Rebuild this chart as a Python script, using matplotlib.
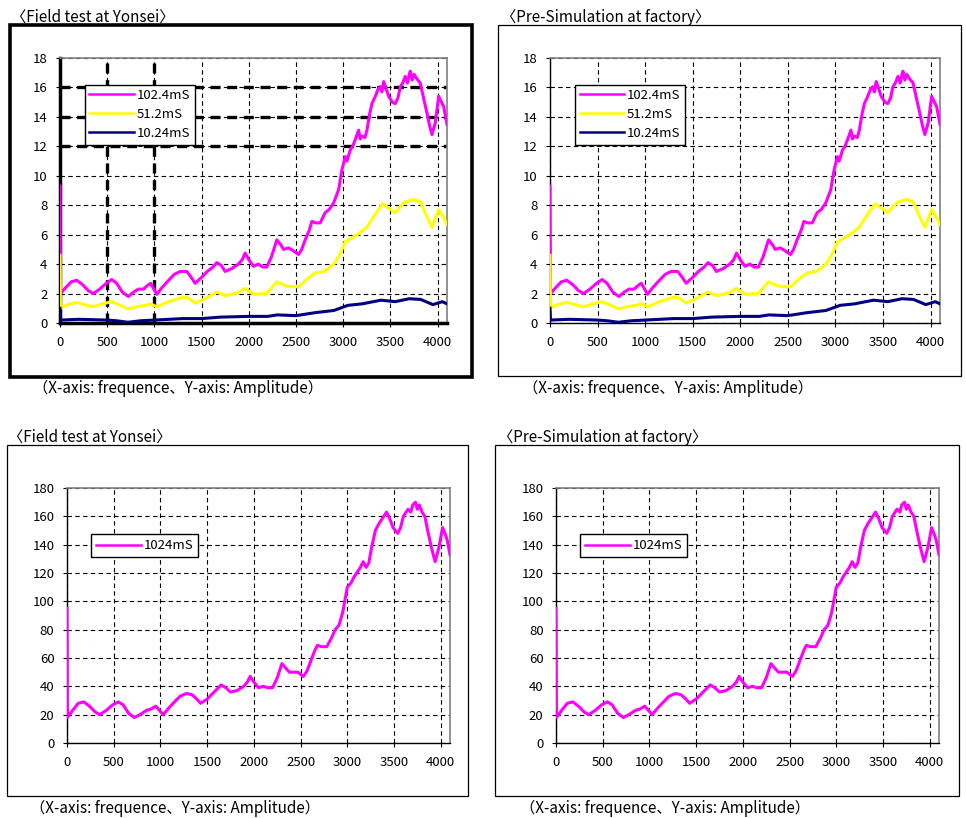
import matplotlib
matplotlib.use("Agg")
import matplotlib.pyplot as plt
from matplotlib.patches import Rectangle

plt.rcParams['font.family'] = ['Noto Sans CJK JP', 'DejaVu Sans']

# values: (frequence, amplitude)
s102 = [(0, 9.3), (5, 2.0), (60, 2.4), (120, 2.8), (177, 2.9), (240, 2.6), (300, 2.2),
        (353, 2.0), (420, 2.3), (490, 2.7), (548, 2.95), (600, 2.7), (660, 2.1), (724, 1.8),
        (780, 2.1), (830, 2.3), (883, 2.3), (936, 2.6), (960, 2.7), (1025, 1.95), (1080, 2.4),
        (1150, 2.9), (1210, 3.3), (1272, 3.5), (1343, 3.5), (1390, 3.1), (1431, 2.7),
        (1500, 3.1), (1560, 3.5), (1620, 3.8), (1660, 4.1), (1710, 3.9), (1749, 3.5),
        (1820, 3.7), (1890, 4.0), (1930, 4.3), (1961, 4.75), (2000, 4.3), (2049, 3.85),
        (2100, 4.0), (2150, 3.8), (2190, 3.8), (2240, 4.5), (2297, 5.65), (2340, 5.3),
        (2367, 5.0), (2420, 5.1), (2473, 4.9), (2527, 4.65), (2560, 5.0), (2597, 5.65),
        (2640, 6.3), (2668, 6.9), (2710, 6.8), (2756, 6.8), (2809, 7.5), (2850, 7.7),
        (2898, 8.15), (2951, 9.05), (2986, 10.4), (3021, 11.3), (3040, 11.0), (3074, 11.75),
        (3100, 12.0), (3130, 12.5), (3163, 13.1), (3180, 12.5), (3198, 12.7), (3230, 12.6),
        (3251, 13.1), (3280, 14.2), (3304, 14.9), (3340, 15.4), (3370, 15.9), (3392, 16.05),
        (3410, 15.7), (3428, 16.4), (3450, 16.0), (3481, 15.4), (3520, 15.0), (3551, 14.9),
        (3580, 15.3), (3604, 16.05), (3630, 16.3), (3657, 16.75), (3680, 16.3), (3700, 16.9),
        (3710, 17.1), (3730, 16.5), (3750, 16.9), (3763, 16.75), (3790, 16.5), (3816, 16.3),
        (3850, 15.3), (3887, 14.25), (3915, 13.4), (3940, 12.8), (3975, 13.6), (4011, 15.4),
        (4040, 15.0), (4064, 14.7), (4099, 13.5)]

s51 = [(0, 4.6), (5, 1.0), (80, 1.25), (177, 1.4), (260, 1.25), (353, 1.1), (450, 1.3),
       (548, 1.45), (640, 1.2), (724, 0.95), (800, 1.1), (900, 1.2), (960, 1.3), (1025, 1.1),
       (1150, 1.45), (1300, 1.75), (1360, 1.7), (1431, 1.35), (1550, 1.7), (1660, 2.1),
       (1750, 1.85), (1880, 2.05), (1960, 2.35), (2050, 1.95), (2190, 2.0), (2297, 2.8),
       (2400, 2.5), (2527, 2.45), (2620, 3.0), (2700, 3.4), (2800, 3.5), (2900, 4.0),
       (2960, 4.6), (3020, 5.5), (3150, 6.0), (3250, 6.5), (3350, 7.5), (3420, 8.1),
       (3480, 7.8), (3550, 7.5), (3650, 8.2), (3750, 8.4), (3820, 8.2), (3880, 7.3),
       (3940, 6.5), (4011, 7.7), (4060, 7.2), (4099, 6.7)]

s10 = [(0, 1.0), (5, 0.2), (200, 0.25), (500, 0.2), (600, 0.15), (720, 0.05), (850, 0.15),
       (1000, 0.2), (1300, 0.3), (1500, 0.3), (1700, 0.4), (2000, 0.45), (2200, 0.45),
       (2300, 0.55), (2500, 0.5), (2700, 0.7), (2900, 0.85), (3050, 1.2), (3200, 1.3),
       (3400, 1.55), (3550, 1.45), (3700, 1.65), (3820, 1.6), (3950, 1.25), (4050, 1.45),
       (4099, 1.3)]

s1024 = [(0, 95), (5, 18), (60, 23), (120, 28), (180, 29), (240, 26), (300, 22), (350, 20),
         (420, 23), (490, 27), (550, 29), (600, 27), (660, 21), (720, 18), (780, 20),
         (850, 23), (900, 24), (950, 26), (1030, 20), (1080, 24), (1150, 29), (1210, 33),
         (1280, 35), (1340, 34), (1390, 31), (1430, 28), (1500, 31), (1560, 35), (1620, 39),
         (1650, 41), (1700, 39), (1750, 36), (1820, 37), (1890, 40), (1930, 43), (1960, 47),
         (2000, 43), (2050, 39), (2100, 40), (2150, 39), (2200, 39), (2250, 46), (2300, 56),
         (2340, 53), (2380, 50), (2420, 50), (2470, 50), (2530, 47), (2570, 51), (2610, 58),
         (2650, 65), (2680, 69), (2720, 68), (2780, 68), (2830, 74), (2870, 80), (2910, 83),
         (2950, 92), (3000, 110), (3040, 113), (3070, 117), (3100, 120), (3140, 124),
         (3170, 128), (3200, 124), (3230, 127), (3260, 138), (3300, 150), (3340, 155),
         (3380, 159), (3420, 163), (3450, 159), (3490, 152), (3540, 148), (3570, 152),
         (3600, 160), (3630, 163), (3650, 165), (3680, 163), (3700, 168), (3730, 170),
         (3750, 165), (3770, 168), (3800, 163), (3830, 160), (3860, 150), (3900, 138),
         (3940, 128), (3980, 138), (4020, 152), (4050, 147), (4070, 143), (4099, 133)]

labels_top = ["102.4mS", "51.2mS", "10.24mS"]
colors_top = ["#ff00ff", "#ffff00", "#000080"]
label_bot = "1024mS"
panel_titles = ["〈Field test at Yonsei〉", "〈Pre-Simulation at factory〉"]
caption = "（X-axis: frequence、Y-axis: Amplitude）"
xticks = list(range(0, 4001, 500))

W, H = 966, 818
fig = plt.figure(figsize=(W / 100, H / 100), dpi=100)


def fx(px):
    return px / W


def fy(py):
    return 1 - py / H


def style_axes(ax, ymax, ystep, bold=False):
    ax.set_xlim(0, 4099)
    ax.set_ylim(0, ymax)
    ax.set_xticks(xticks)
    ax.set_yticks(range(0, ymax + 1, ystep))
    ax.grid(True, color="black", linestyle=(0, (4, 3)), linewidth=0.8)
    ax.set_axisbelow(True)
    ax.tick_params(labelsize=9.5, length=3, width=0.8, pad=6)
    for s in ["top", "right"]:
        ax.spines[s].set_color("#808080")
        ax.spines[s].set_linewidth(1.2)
    for s in ["left", "bottom"]:
        ax.spines[s].set_color("black")
        ax.spines[s].set_linewidth(2.5 if bold else 1.0)


def add_frame(x0, y0, x1, y1, lw):
    fig.patches.append(Rectangle((fx(x0), fy(y1)), fx(x1) - fx(x0), fy(y0) - fy(y1),
                                 transform=fig.transFigure, fill=False,
                                 edgecolor="black", linewidth=lw, zorder=0))


def thin_handles(leg):
    for ln in leg.get_lines():
        ln.set_linewidth(1.8)
    leg.get_frame().set_linewidth(1.0)


# top row: three sampling times
top_axes = [(60, 58, 447, 323), (550, 58, 940, 323)]
for i, (l, t, r, b) in enumerate(top_axes):
    ax = fig.add_axes([fx(l), fy(b), fx(r) - fx(l), fy(t) - fy(b)])
    style_axes(ax, 18, 2, bold=(i == 0))
    if i == 0:
        for yv in [12, 14, 16]:
            ax.axhline(yv, color="black", linestyle=(0, (3, 2)), linewidth=2.4, zorder=1)
        for xv in [500, 1000]:
            ax.axvline(xv, color="black", linestyle=(0, (3, 2)), linewidth=2.4, zorder=1)
    for data, lab, col in zip([s102, s51, s10], labels_top, colors_top):
        xs, ys = zip(*data)
        ax.plot(xs, ys, color=col, linewidth=2.2, label=lab, zorder=3)
    leg = ax.legend(loc="upper left", bbox_to_anchor=(0.064, 0.9), fontsize=9.5,
                    frameon=True, fancybox=False, framealpha=1, edgecolor="black",
                    handlelength=3.4, handletextpad=0.2, borderpad=0.35,
                    labelspacing=0.45, borderaxespad=0)
    thin_handles(leg)

# bottom row: long sampling time
bot_axes = [(67, 488, 450, 743), (556, 488, 939, 743)]
for l, t, r, b in bot_axes:
    ax = fig.add_axes([fx(l), fy(b), fx(r) - fx(l), fy(t) - fy(b)])
    style_axes(ax, 180, 20)
    xs, ys = zip(*s1024)
    ax.plot(xs, ys, color="#ff00ff", linewidth=2.2, label=label_bot, zorder=3)
    leg = ax.legend(loc="upper left", bbox_to_anchor=(0.062, 0.82), fontsize=9.5,
                    frameon=True, fancybox=False, framealpha=1, edgecolor="black",
                    handlelength=3.4, handletextpad=0.2, borderpad=0.4, borderaxespad=0)
    thin_handles(leg)

# outer frames, titles and captions
add_frame(10, 25, 472, 377, 2.6)
add_frame(498, 25, 961, 376, 0.9)
add_frame(7, 445, 468, 796, 0.9)
add_frame(495, 445, 959, 796, 0.9)

for x, y, txt in [(11, 17, panel_titles[0]), (501, 17, panel_titles[1]),
                  (8, 437, panel_titles[0]), (498, 437, panel_titles[1])]:
    fig.text(fx(x), fy(y), txt, fontsize=11, ha="left", va="center")
for x, y in [(33, 388), (523, 388), (30, 808), (520, 808)]:
    fig.text(fx(x), fy(y), caption, fontsize=11, ha="left", va="center")

fig.savefig("out.png", dpi=100)
